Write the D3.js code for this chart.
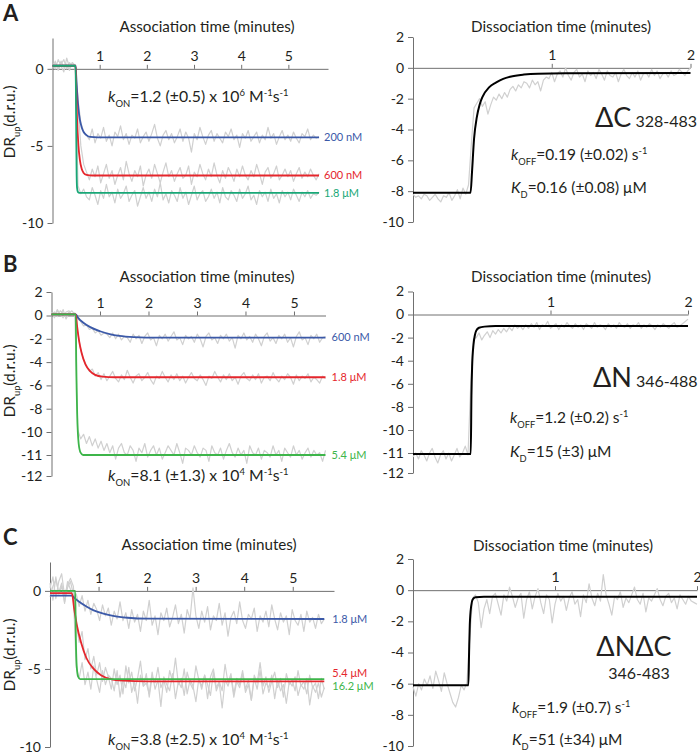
<!DOCTYPE html>
<html><head><meta charset="utf-8">
<script src="https://cdn.jsdelivr.net/npm/d3@7"></script>
<style>
body{margin:0;background:#fff}
text{font-family:Lato,"Open Sans",sans-serif;fill:#231f20}
</style>
</head><body>
<svg id="chart" width="700" height="752"></svg>
<script>
// ---------------- DATA ----------------
const assocTicksX = [1, 2, 3, 4, 5];
const dissocTicksX = [1, 2];
const yTicksA = [0, -5, -10];
const yTicksB = [2, 0, -2, -4, -6, -8, -10, -11, -12];
const yTicksC = [0, -5, -10];
const yTicksDissA = [2, 0, -2, -4, -6, -8, -10];
const yTicksDissB = [2, 0, -2, -4, -6, -8, -10, -11, -12];
const yTicksDissC = [2, 0, -2, -4, -6, -8, -10];

const ASSOC_END = 5.65;   // minutes
const DISS_END = 2.0;     // minutes

// Panel A — association raw traces (gray)
const rawA_200nM = [0.3,0.0,0.6,0.2,-0.2,0.7,0.1,0.4,0.2,-2.0,-3.5,-4.1,-4.3,
-4.6,-3.9,-4.8,-4.2,-4.5,-3.8,-4.7,-4.3,-5.0,-4.1,-4.4,-3.7,-4.6,-4.2,-4.9,-4.3,-4.5,-3.9,-4.8,-4.4,
-4.1,-4.7,-4.2,-3.6,-4.5,-5.0,-4.3,-4.0,-4.6,-4.2,-4.8,-4.4,-3.9,-4.7,-4.1,-4.5,-5.4,-4.2,-4.6,-3.8,
-4.4,-4.9,-4.3,-4.0,-4.7,-4.2,-4.5,-4.8,-4.1,-4.4,-3.9,-4.6,-4.3,-5.1,-4.2,-4.5,-4.0,-4.7,-4.4,-4.1,
-4.8,-4.3,-4.6,-3.8,-4.5,-4.2,-4.9,-4.4,-4.0,-4.6,-4.3,-4.7,-4.1,-4.5,-4.8,-4.2,-4.4,-3.9,-4.6,-4.3,-4.5,-4.4];
const rawA_600nM = [0.1,0.5,-0.1,0.3,0.6,0.0,0.4,0.2,0.1,-2.5,-5.0,-6.2,-6.7,
-7.2,-6.5,-7.0,-6.3,-7.4,-6.8,-6.2,-7.1,-6.6,-7.5,-6.9,-6.4,-7.2,-6.0,-6.8,-7.3,-6.6,-7.0,-6.3,-7.6,
-6.9,-6.5,-7.1,-6.2,-6.8,-7.4,-6.7,-6.1,-7.0,-6.6,-7.3,-6.8,-6.4,-7.1,-6.9,-6.3,-7.5,-6.7,-7.0,-6.2,
-6.8,-7.2,-6.5,-7.0,-6.1,-6.9,-7.4,-6.6,-7.1,-6.4,-6.8,-7.3,-6.5,-7.0,-6.3,-6.9,-7.2,-6.6,-7.0,-6.2,
-6.8,-7.5,-6.7,-6.4,-7.1,-6.8,-6.3,-7.2,-6.9,-6.5,-7.0,-6.6,-7.3,-6.8,-6.4,-7.1,-6.7,-7.0,-6.5,-6.9,-7.2,-6.8];
const rawA_1800nM = [0.2,0.4,0.0,0.5,0.1,0.3,-0.1,0.4,0.2,-7.6,-8.1,-7.8,-8.3,
-8.5,-7.7,-8.2,-8.8,-7.9,-8.4,-7.5,-8.3,-8.0,-8.7,-7.8,-8.4,-8.1,-7.6,-8.6,-8.2,-7.9,-8.9,-8.3,-7.7,
-8.4,-8.0,-8.6,-7.8,-8.3,-7.4,-8.5,-8.1,-8.7,-7.9,-8.2,-8.6,-7.7,-8.4,-8.0,-8.8,-8.2,-7.6,-8.5,-8.1,
-7.9,-8.6,-8.3,-7.8,-8.4,-8.0,-8.7,-7.7,-8.3,-8.5,-7.9,-8.2,-8.6,-7.8,-8.4,-8.1,-7.6,-8.5,-8.2,-8.8,
-7.9,-8.3,-8.0,-8.6,-7.8,-8.4,-8.1,-8.7,-7.9,-8.3,-8.0,-8.5,-7.8,-8.2,-8.6,-8.0,-8.3,-7.9,-8.4,-8.1,-8.2,-8.0];
// Panel A — association fits [minutes, value]
const fitA_200nM = [[0,0.2],[0.49,0.2],[0.5,-0.3],[0.52,-1.4],[0.55,-2.6],[0.58,-3.3],[0.62,-3.8],[0.66,-4.1],[0.72,-4.3],[0.8,-4.42],[0.95,-4.45],[5.65,-4.45]];
const fitA_600nM = [[0,0.2],[0.49,0.2],[0.5,-1.0],[0.52,-3.2],[0.55,-5.0],[0.58,-5.9],[0.62,-6.5],[0.66,-6.75],[0.72,-6.88],[0.85,-6.92],[5.65,-6.92]];
const fitA_1800nM = [[0,0.2],[0.49,0.2],[0.5,-3.0],[0.51,-6.5],[0.52,-7.7],[0.54,-8.0],[0.57,-8.05],[5.65,-8.05]];
// Panel A — dissociation
const rawDissA = [-8.2,-8.4,-8.3,-8.5,-8.2,-8.3,-8.6,-8.4,-8.2,-8.5,-8.7,-8.3,-8.4,-8.1,-8.6,-8.3,-7.9,-8.5,-7.8,-8.2,-7.6,
-5.0,-2.6,-2.3,-2.0,-2.5,-2.2,-3.0,-2.4,-1.9,-2.1,-1.7,-2.0,-1.6,-1.9,-1.4,-1.2,-1.5,-1.1,-1.3,-0.9,-1.0,-1.3,-0.8,-1.1,-0.9,-1.5,-0.8,-0.6,
-0.7,-0.3,-0.9,-0.4,-0.2,-0.6,0.0,-0.5,-0.8,-0.3,-0.1,-0.6,-0.4,-0.9,-0.2,-0.5,-0.3,-0.7,-0.1,-0.4,
-0.8,-0.2,-0.5,-0.6,-0.3,-0.9,-0.4,-0.1,-0.5,-0.7,-0.3,-0.6,-0.2,-0.8,-0.4,-0.3,-0.6,-0.1,-0.5,-0.2,
-0.7,-0.4,-0.3,-0.6,-0.2,-0.5,-0.4,-0.1,-0.3,-0.5,-0.2,0.0];
const fitDissA = [[0,-8.1],[0.415,-8.1],[0.425,-6.8],[0.44,-4.6],[0.46,-3.2],[0.48,-2.4],[0.5,-1.9],[0.55,-1.25],[0.6,-0.95],[0.65,-0.72],[0.7,-0.58],[0.8,-0.44],[0.9,-0.38],[1.1,-0.35],[2.0,-0.33]];

// Panel B — association
const rawB_600nM = [0.3,-0.2,0.4,0.0,0.5,-0.3,0.2,0.4,0.1,
-0.3,-0.5,-0.9,-0.8,-1.2,-1.1,-1.5,-1.3,-1.7,-1.5,-1.6,-1.9,-1.5,-2.0,-1.6,-2.1,-1.8,
-1.9,-2.3,-1.6,-2.0,-1.7,-2.4,-1.8,-1.5,-2.1,-1.9,-2.6,-1.7,-2.0,-1.6,-2.2,-1.8,-1.4,-2.1,-1.9,-2.5,
-1.7,-2.0,-1.8,-2.3,-1.6,-2.0,-2.7,-1.8,-1.5,-2.1,-1.9,-2.4,-1.7,-2.0,-1.6,-2.2,-1.9,-2.8,-1.7,-2.0,
-1.5,-2.1,-1.8,-2.3,-1.6,-2.0,-2.6,-1.8,-1.5,-2.2,-1.9,-2.4,-1.7,-2.0,-1.6,-2.3,-1.9,-2.7,-1.8,-1.4,
-2.1,-1.9,-2.5,-1.7,-2.0,-1.6,-2.3,-1.9,-1.8];
const rawB_1800nM = [0.2,0.0,0.5,0.1,-0.2,0.3,0.4,0.0,0.2,
-1.5,-2.9,-3.8,-4.3,-4.8,-4.6,-5.2,-4.9,-5.5,
-5.0,-5.6,-5.2,-4.8,-5.4,-5.7,-5.1,-5.5,-4.7,-5.3,-5.8,-5.2,-5.0,-5.6,-5.3,-4.9,-5.5,-5.9,-5.2,-5.4,
-4.8,-5.3,-5.7,-5.1,-5.5,-5.0,-5.6,-5.2,-5.8,-5.3,-4.9,-5.4,-5.6,-5.1,-5.5,-6.0,-5.2,-5.4,-4.8,-5.3,
-5.7,-5.1,-5.5,-5.0,-5.6,-5.3,-5.9,-5.2,-4.9,-5.4,-5.6,-5.1,-5.5,-5.0,-5.8,-5.3,-5.2,-5.6,-4.9,-5.4,
-5.7,-5.2,-5.5,-5.0,-5.3,-5.9,-5.1,-5.6,-5.2,-5.4,-5.0,-5.7,-5.3,-5.5,-5.8,-5.2,-5.4];
const rawB_5400nM = [0.1,0.3,-0.1,0.4,0.2,0.0,0.3,0.1,0.2,
-9.8,-10.3,-10.1,-10.5,-10.2,-10.6,-10.3,-10.7,-10.4,
-10.8,-10.5,-10.9,-10.6,-11.2,-10.7,-10.5,-10.9,-11.0,-10.6,-10.8,-11.3,-10.7,-10.9,-10.5,-11.1,-10.8,-10.6,-11.0,-10.7,
-11.2,-10.9,-10.6,-10.8,-11.0,-10.5,-10.9,-11.4,-10.7,-10.8,-11.0,-10.6,-10.9,-11.1,-10.7,-10.8,-11.3,-10.6,-10.9,-11.0,
-10.7,-11.2,-10.8,-10.5,-10.9,-11.1,-10.7,-11.0,-10.8,-11.4,-10.6,-10.9,-11.0,-10.7,-11.2,-10.8,-10.9,-11.1,-10.6,-11.0,
-10.8,-11.3,-10.7,-10.9,-11.1,-10.6,-11.0,-10.8,-11.2,-10.9,-10.7,-11.1,-10.8,-11.0,-10.9,-11.3,-10.8];
const fitB_600nM = [[0,0.1],[0.5,0.1],[0.55,-0.2],[0.65,-0.6],[0.8,-1.0],[1.0,-1.35],[1.2,-1.6],[1.4,-1.75],[1.7,-1.85],[2.2,-1.9],[5.65,-1.9]];
const fitB_1800nM = [[0,0.1],[0.5,0.1],[0.53,-1.0],[0.57,-2.2],[0.62,-3.2],[0.7,-4.2],[0.8,-4.8],[0.9,-5.1],[1.05,-5.25],[1.3,-5.3],[5.65,-5.3]];
const fitB_5400nM = [[0,0.1],[0.5,0.1],[0.51,-4.0],[0.53,-8.5],[0.56,-10.5],[0.6,-10.9],[0.65,-11.0],[5.65,-11.0]];
// Panel B — dissociation
const rawDissB = [-11.2,-11.0,-11.3,-10.9,-11.1,-11.4,-11.0,-10.8,-11.2,-11.5,-11.1,-10.9,-11.3,-11.0,-11.4,-11.1,-10.8,-11.2,-11.0,-10.7,-11.1,
-6.0,-2.1,-2.0,-1.6,-2.2,-1.8,-1.5,-2.0,-1.4,-1.7,-1.3,-1.6,-1.2,-1.5,-1.1,-1.4,-0.9,-1.2,-1.0,-1.3,
-0.9,-1.2,-0.8,-1.1,-0.7,-1.3,-0.9,-1.0,-0.6,-1.2,-1.0,-0.8,-1.3,-0.9,-1.1,-0.7,-1.0,-1.2,-0.8,-1.1,
-0.9,-1.3,-0.8,-1.0,-1.2,-0.7,-1.1,-0.9,-1.0,-1.3,-0.8,-1.1,-0.9,-1.2,-0.7,-1.0,-1.1,-0.8,-1.2,-0.9,
-1.0,-0.7,-1.2,-0.9,-1.1,-0.8,-1.0,-1.3,-0.9,-1.1,-0.8,-1.0,-1.2,-0.9,-0.7,-1.1,-1.0,-0.8,-0.6,-0.4];
const fitDissB = [[0,-11.05],[0.42,-11.05],[0.425,-7.0],[0.43,-4.5],[0.44,-2.6],[0.45,-1.8],[0.46,-1.4],[0.48,-1.15],[0.52,-1.05],[0.6,-1.0],[2.0,-1.0]];

// Panel C — association
const rawC_1800nM = [0.5,-0.6,0.9,-0.2,0.3,-0.8,0.6,0.1,-0.4,
-0.2,-1.0,-0.3,-1.3,-0.6,-1.5,-0.8,-1.2,-1.9,-0.9,-1.6,-1.1,-2.2,-1.3,-1.8,-0.7,-1.9,-1.4,-2.4,-1.2,
-2.0,-1.5,-2.6,-1.3,-1.9,-0.6,-2.2,-1.6,-2.8,-1.4,-1.9,-1.1,-2.3,-1.7,-0.9,-2.1,-1.5,-2.7,-1.2,-1.8,
0.2,-1.6,-2.4,-1.3,-2.0,-1.0,-2.5,-1.6,-1.9,-0.8,-2.2,-1.4,-2.9,-1.7,-1.3,-2.1,-0.7,-1.9,-2.4,-1.5,
-1.8,-1.1,-2.6,-1.6,-2.0,-1.3,-2.3,-0.9,-1.8,-2.5,-1.4,-2.0,-1.6,-2.8,-1.2,-1.9,-2.2,-1.5,-2.6,-1.3,
-2.0,-1.7,-2.4,-1.5,-2.1,-1.8];
const rawC_5400nM = [0.2,0.9,-0.5,0.6,1.1,-0.3,0.4,0.8,0.3,
-2.0,-3.3,-2.6,-4.4,-3.7,-5.0,-4.2,-5.4,-4.6,-5.8,-4.9,-5.5,
-6.3,-5.0,-6.0,-5.4,-6.6,-4.8,-5.9,-5.2,-6.4,-5.6,-4.5,-6.1,-5.3,-6.8,-5.5,-5.9,-4.9,-6.2,-5.7,-6.5,
-5.1,-5.8,-4.3,-6.0,-5.6,-6.7,-5.2,-5.9,-6.3,-4.8,-5.7,-6.1,-5.4,-6.9,-5.5,-5.0,-6.2,-5.8,-6.4,-4.7,
-5.9,-5.3,-6.6,-5.6,-6.0,-5.1,-6.3,-5.7,-7.0,-5.4,-5.9,-4.6,-6.1,-5.5,-6.5,-5.8,-5.2,-6.2,-5.6,-6.8,
-5.3,-6.0,-5.7,-6.4,-5.1,-6.1,-5.8,-6.6,-5.4,-6.2,-5.9,-6.9,-5.6,-6.3];
const rawC_16200nM = [-0.4,0.3,0.7,-0.1,0.5,-0.7,0.2,0.6,-0.2,
-4.9,-5.6,-4.6,-6.0,-5.2,-6.3,-4.8,-5.7,-6.5,-5.1,-6.0,-5.4,
-5.6,-6.4,-5.1,-6.8,-5.7,-6.2,-4.9,-6.5,-5.8,-7.2,-5.4,-6.1,-5.9,-6.6,-5.2,-6.3,-5.7,-7.4,-5.5,-6.0,
-6.4,-5.3,-6.9,-5.8,-6.2,-5.0,-6.6,-5.7,-6.1,-7.1,-5.6,-6.3,-5.4,-6.0,-6.7,-5.2,-6.4,-5.9,-7.5,-5.7,
-6.1,-5.5,-6.8,-5.8,-6.2,-5.3,-6.5,-6.0,-7.0,-5.6,-6.3,-5.1,-6.6,-5.9,-6.2,-5.4,-6.9,-5.7,-6.4,-6.0,
-7.2,-5.8,-6.1,-5.5,-6.7,-6.0,-6.3,-5.6,-7.3,-6.1,-6.5,-5.9,-6.8,-6.2];
const fitC_1800nM = [[0,-0.3],[0.45,-0.3],[0.5,-0.45],[0.6,-0.7],[0.75,-1.0],[0.9,-1.25],[1.1,-1.45],[1.3,-1.6],[1.6,-1.72],[2.0,-1.78],[5.65,-1.8]];
const fitC_5400nM = [[0,-0.15],[0.45,-0.15],[0.5,-1.2],[0.56,-2.3],[0.64,-3.3],[0.75,-4.3],[0.9,-5.0],[1.05,-5.4],[1.25,-5.65],[1.5,-5.75],[2.0,-5.8],[5.65,-5.8]];
const fitC_16200nM = [[0,0],[0.52,0],[0.53,-2.5],[0.55,-4.8],[0.58,-5.5],[0.62,-5.65],[5.65,-5.65]];
// Panel C — dissociation
const rawDissC = [-6.2,-6.8,-6.0,-6.4,-5.7,-6.1,-5.5,-6.3,-5.2,-5.8,-6.5,-5.3,-6.0,-6.6,-7.2,-7.5,-6.9,-6.1,-6.4,-5.9,
-3.0,-0.5,-0.3,-0.8,-2.4,-1.2,-0.6,-1.5,-0.4,-0.2,-0.9,-1.6,-0.3,-0.7,0.2,-0.4,-1.1,-0.5,-0.2,-1.8,
-0.6,-0.1,-1.2,-0.4,0.1,-0.8,-1.5,-0.3,-0.6,-2.1,-0.9,-0.2,-0.7,-0.4,-1.3,-0.5,-0.1,-0.9,-0.6,-1.7,
-0.3,-0.8,0.4,-0.5,-1.0,-0.2,-0.7,1.0,-0.3,-0.9,-1.6,-0.4,-0.6,-0.1,-1.1,-0.5,-0.8,-0.3,0.2,-0.6,
-0.9,-0.2,-1.4,-0.5,-0.7,-0.3,0.1,-0.6,-1.0,-0.4,-0.2,-0.8,-0.5,-1.2,-0.3,-0.6,-0.9,-0.4,-0.7,-0.8,-0.9];
const fitDissC = [[0,-6.1],[0.39,-6.1],[0.395,-4.0],[0.40,-2.2],[0.41,-1.0],[0.42,-0.6],[0.44,-0.45],[0.5,-0.42],[2.0,-0.42]];

const concA = ["200 nM", "600 nM", "1.8 μM"];
const concB = ["600 nM", "1.8 μM", "5.4 μM"];
const concC = ["1.8 μM", "5.4 μM", "16.2 μM"];

// ---------------- STYLE ----------------
const BLUE = "#3b59a8", RED = "#e5262c", GREEN_A = "#19a777", GREEN_B = "#3db54a";
const GRAY = "#d0d0d0", AXIS = "#707070";
const svg = d3.select("#chart");

function rich(g, x, y, segs, size, opts = {}) {
  const t = g.append("text").attr("x", x).attr("y", y).attr("font-size", size)
    .attr("text-anchor", opts.anchor || "start");
  if (opts.transform) t.attr("transform", opts.transform);
  let cur = 0;
  segs.forEach(s => {
    const txt = s[0], kind = s[1] || "", sz = s[2];
    const off = kind === "sub" ? size * 0.32 : kind === "sup" ? -size * 0.4 : 0;
    const ts = t.append("tspan").text(txt).attr("dy", off - cur);
    if (kind === "sub" || kind === "sup") ts.attr("font-size", size * 0.6);
    if (kind === "i") ts.attr("font-style", "italic");
    if (sz) ts.attr("font-size", sz);
    cur = off;
  });
  return t;
}

function panel(p) {
  const g = svg.append("g");
  const x = d3.scaleLinear().domain(p.xd).range(p.xr);
  const y = d3.scaleLinear().domain(p.yd).range(p.yr);
  const ya = g.append("g").attr("transform", `translate(${p.xr[0]},0)`)
    .call(d3.axisLeft(y).tickValues(p.yTicks).tickSize(5).tickSizeOuter(0).tickPadding(4).tickFormat(d => String(d)));
  const xa = g.append("g").attr("transform", `translate(0,${y(0)})`)
    .call(d3.axisTop(x).tickValues(p.xTicks).tickSize(4).tickSizeOuter(0).tickPadding(4).tickFormat(d => String(d)));
  [ya, xa].forEach(a => {
    a.selectAll("path,line").attr("stroke", AXIS).attr("stroke-width", 1);
    a.selectAll("text").attr("font-size", 14).attr("fill", "#231f20").style("font-family", "Lato");
  });
  const line = d3.line().x(d => x(d[0])).y(d => y(d[1]));
  p.raw.forEach(arr => {
    const tx = d3.scaleLinear().domain([0, arr.length - 1]).range([0, p.tEnd]);
    g.append("path").datum(arr.map((v, i) => [tx(i), v]))
      .attr("fill", "none").attr("stroke", GRAY).attr("stroke-width", 1.2)
      .attr("stroke-linejoin", "round").attr("d", line);
  });
  const fitLine = d3.line().x(d => x(d[0])).y(d => y(d[1])).curve(d3.curveMonotoneX);
  p.fits.forEach((f, i) => {
    g.append("path").datum(f).attr("fill", "none").attr("stroke", p.colors[i])
      .attr("stroke-width", p.fitW || 1.8).attr("d", fitLine);
  });
  if (p.conc) p.conc.forEach((c, i) => {
    const last = p.fits[i][p.fits[i].length - 1];
    g.append("text").attr("x", x(last[0]) + p.labDx).attr("y", y(last[1]) + (p.labDy ? p.labDy[i] : 0))
      .attr("dy", "0.35em").attr("font-size", 11).style("fill", p.colors[i]).text(c);
  });
  return {g, x, y};
}

// ---------- Panel A ----------
panel({xd:[0,5.84], xr:[52.5,328], yd:[2,-10], yr:[38,223], yTicks:yTicksA, xTicks:assocTicksX, tEnd:ASSOC_END,
  raw:[rawA_200nM, rawA_600nM, rawA_1800nM], fits:[fitA_200nM, fitA_600nM, fitA_1800nM],
  colors:[BLUE, RED, GREEN_A], conc:concA, labDx:5});
panel({xd:[0,2], xr:[413,690.5], yd:[2,-10], yr:[37,222], yTicks:yTicksDissA, xTicks:dissocTicksX, tEnd:DISS_END,
  raw:[rawDissA], fits:[fitDissA], colors:["#000"], fitW:2});

// ---------- Panel B ----------
panel({xd:[0,5.65], xr:[51.5,325.5], yd:[2,0,-10,-11,-12], yr:[292,315.5,432,455,476], yTicks:yTicksB, xTicks:assocTicksX, tEnd:ASSOC_END,
  raw:[rawB_600nM, rawB_1800nM, rawB_5400nM], fits:[fitB_600nM, fitB_1800nM, fitB_5400nM],
  colors:[BLUE, RED, GREEN_B], conc:concB, labDx:6});
panel({xd:[0,2], xr:[413,688], yd:[2,0,-10,-11,-12], yr:[291.5,314.5,430,453,473], yTicks:yTicksDissB, xTicks:dissocTicksX, tEnd:DISS_END,
  raw:[rawDissB], fits:[fitDissB], colors:["#000"], fitW:2});

// ---------- Panel C ----------
panel({xd:[0,5.85], xr:[50,334], yd:[1.85,-10], yr:[562,747], yTicks:yTicksC, xTicks:assocTicksX, tEnd:ASSOC_END,
  raw:[rawC_1800nM, rawC_5400nM, rawC_16200nM], fits:[fitC_1800nM, fitC_5400nM, fitC_16200nM],
  colors:[BLUE, RED, GREEN_B], conc:concC, labDx:8, labDy:[0,-8,7]});
panel({xd:[0,2], xr:[413,697], yd:[2,-10], yr:[559,746], yTicks:yTicksDissC, xTicks:dissocTicksX, tEnd:DISS_END,
  raw:[rawDissC], fits:[fitDissC], colors:["#000"], fitW:2});

// ---------------- TEXT ----------------
const T = svg.append("g");
[["A",21],["B",272],["C",545]].forEach(([l,yy]) =>
  T.append("text").attr("x",3).attr("y",yy).attr("font-size",22).attr("font-weight","bold").text(l));
[[207,32],[207,282],[209,550]].forEach(([xx,yy]) =>
  T.append("text").attr("x",xx).attr("y",yy).attr("text-anchor","middle").attr("font-size",15.2).text("Association time (minutes)"));
[[561,32],[561,282],[563,551]].forEach(([xx,yy]) =>
  T.append("text").attr("x",xx).attr("y",yy).attr("text-anchor","middle").attr("font-size",15.2).text("Dissociation time (minutes)"));
[122,381,655].forEach(cy =>
  rich(T, 0, 0, [["DR"],["up","sub"],["(d.r.u.)"]], 15.5, {anchor:"middle", transform:`translate(15,${cy}) rotate(-90)`}));

const kOnA = [["k","i"],["ON","sub"],["=1.2 (±0.5) x 10"],["6","sup"],["  M"],["-1","sup"],["s"],["-1","sup"]];
const kOnB = [["k","i"],["ON","sub"],["=8.1 (±1.3) x 10"],["4","sup"],["  M"],["-1","sup"],["s"],["-1","sup"]];
const kOnC = [["k","i"],["ON","sub"],["=3.8 (±2.5) x 10"],["4","sup"],["  M"],["-1","sup"],["s"],["-1","sup"]];
rich(T, 108, 102, kOnA, 15.8);
rich(T, 108, 481, kOnB, 15.8);
rich(T, 108, 745, kOnC, 15.8);

rich(T, 595, 127, [["ΔC"],[" 328-483",null,16]], 27);
rich(T, 593, 387, [["ΔN"],[" 346-488",null,16]], 27);
T.append("text").attr("x",634).attr("y",656).attr("text-anchor","middle").attr("font-size",27).text("ΔNΔC");
T.append("text").attr("x",639).attr("y",679).attr("text-anchor","middle").attr("font-size",16).text("346-483");

rich(T, 511, 160, [["k","i"],["OFF","sub"],["=0.19 (±0.02) s"],["-1","sup"]], 15.5);
rich(T, 511, 193, [["K","i"],["D","sub"],["=0.16 (±0.08) μM"]], 15.5);
rich(T, 510, 423, [["k","i"],["OFF","sub"],["=1.2 (±0.2) s"],["-1","sup"]], 15.5);
rich(T, 510, 457, [["K","i"],["D","sub"],["=15 (±3) μM"]], 15.5);
rich(T, 512, 713, [["k","i"],["OFF","sub"],["=1.9 (±0.7) s"],["-1","sup"]], 15.5);
rich(T, 512, 745, [["K","i"],["D","sub"],["=51 (±34) μM"]], 15.5);
</script>
</body></html>
